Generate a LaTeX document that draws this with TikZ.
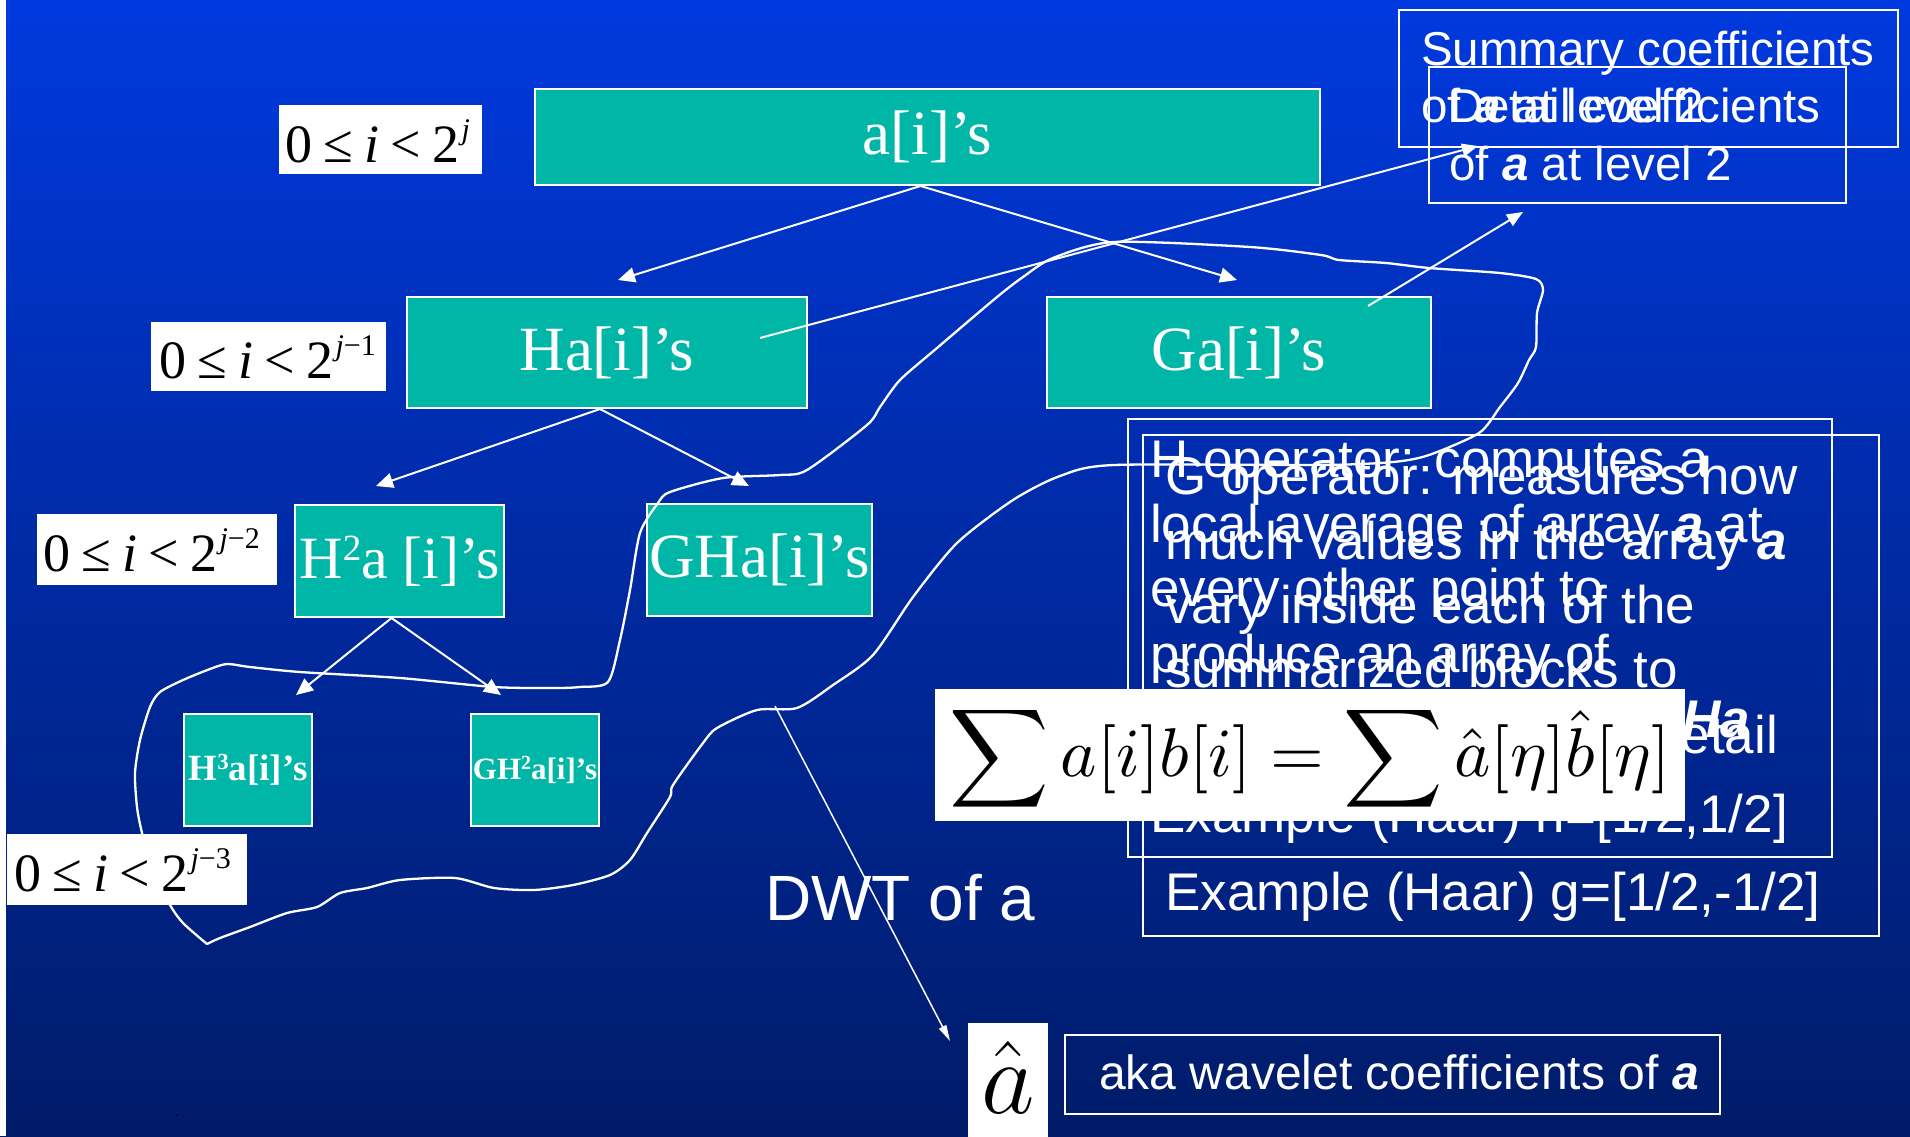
\RequirePackage{fix-cm}
\documentclass[tikz,border=0pt]{standalone}
\usepackage{graphicx}
\usepackage{fontspec}
\setmainfont{Liberation Serif}
\newfontfamily\arialf{Liberation Sans}
\usetikzlibrary{arrows.meta,calc}
\newcommand\fs[1]{\fontsize{#1}{#1}\selectfont}
\newcommand\bfit[1]{\textbf{\textit{#1}}}
\newcommand\lsp{\hspace{0.21em}}
\definecolor{bgtop}{RGB}{0,57,222}
\definecolor{bgbot}{RGB}{0,27,104}
\definecolor{tealc}{RGB}{0,182,166}
\tikzset{
  tnode/.style={draw=white, line width=2pt, fill=tealc, inner sep=0pt, anchor=north west, text=white},
  lbox/.style={fill=white, inner sep=0pt, anchor=north west},
  tbox/.style={draw=white, line width=2.2pt, inner sep=0pt, anchor=north west},
  lbltext/.style={anchor=base west, inner sep=0pt, text=black, font=\fs{54}},
  swtext/.style={anchor=base west, inner sep=0pt, text=white, font=\arialf\fs{53}},
  sumtext/.style={anchor=base west, inner sep=0pt, text=white, font=\arialf\fs{47.5}},
  tarrow/.style={draw=white, line width=2pt, -{Triangle[length=17pt,width=15pt]}},
  larrow/.style={draw=white, line width=2pt, -{Triangle[length=16pt,width=13pt]}},
  thinarrow/.style={draw=white, line width=1.5pt, -{Triangle[length=16pt,width=8pt]}},
  loopline/.style={draw=white, line width=2.3pt, line join=round, line cap=round}
}
\begin{document}
\begin{tikzpicture}[x=1pt, y=-1pt]
\useasboundingbox (0,0) rectangle (1910,1136);
\shade[top color=bgtop, bottom color=bgbot] (0,0) rectangle (1910,1136);
\fill[white] (0,0) rectangle (6,1136);

% explanation boxes
\node[tbox, minimum width=499pt, minimum height=137pt] (sumbox) at (1398,9) {};
\node[tbox, minimum width=417pt, minimum height=136pt] (detbox) at (1428,66) {};
\node[sumtext] (sum1) at (1421,65) {Summary coefficients};
\node[sumtext] (sum2) at (1421,122) {of \bfit{a} at level 2};
\node[sumtext] (det1) at (1449,122) {Detail coefficients};
\node[sumtext] (det2) at (1449,180) {of \bfit{a} at level 2};

\node[tbox, minimum width=704pt, minimum height=438pt] (hbox) at (1127,418) {};
\node[tbox, minimum width=736pt, minimum height=501pt] (gbox) at (1142,434) {};
\node[swtext] (h1) at (1150,477) {H operator: computes a};
\node[swtext] (h2) at (1150,542) {local average of array \bfit{a} at};
\node[swtext] (h3) at (1150,606) {every other point to};
\node[swtext] (h4) at (1150,672) {produce an array of};
\node[swtext] (h5) at (1150,737) {summary coefficients};
\node[swtext] (h5b) at (1682,737) {\bfit{Ha}};
\node[swtext] (h6) at (1150,832) {Example (Haar) h=[1/2,1/2]};
\node[swtext] (g1) at (1165,494) {G operator: measures how};
\node[swtext] (g2) at (1165,559) {much values in the array \bfit{a}};
\node[swtext] (g3) at (1165,623) {vary inside each of the};
\node[swtext] (g4) at (1165,687) {summarized blocks to};
\node[swtext] (g5) at (1165,753) {compute an array of detail};
\node[swtext] (g6) at (1165,910) {Example (Haar) g=[1/2,-1/2]};

% tree nodes
\node[tnode, minimum width=785pt, minimum height=96pt, font=\fs{63}] (A) at (534,88) {a[i]’s};
\node[tnode, minimum width=400pt, minimum height=111pt, font=\fs{63}] (Ha) at (406,296) {Ha[i]’s};
\node[tnode, minimum width=384pt, minimum height=111pt, font=\fs{63}] (Ga) at (1046,296) {Ga[i]’s};
\node[tnode, minimum width=209pt, minimum height=112pt, font=\fs{60}] (H2a) at (294,504) {H\raisebox{18pt}{\fs{37}2}a [i]’s};
\node[tnode, minimum width=225pt, minimum height=112pt, font=\fs{63}] (GHa) at (646,503) {GHa[i]’s};
\node[tnode, minimum width=128pt, minimum height=112pt, font=\bfseries\fs{37}] (H3a) at (183,713) {H\raisebox{11pt}{\fs{23}3}a[i]’s};
\node[tnode, minimum width=128pt, minimum height=112pt, font=\bfseries\fs{31}] (GH2a) at (470,713) {GH\raisebox{10pt}{\fs{20}2}a[i]’s};

% arrow end points
\coordinate (tHa) at (618,280);
\coordinate (tGa) at (1237,280);
\coordinate (tH2a) at (376,486);
\coordinate (tGHa) at (749,486);
\coordinate (tH3a) at (296,695);
\coordinate (tGH2a) at (501,695);
\coordinate (sHa) at (760,338);
\coordinate (tSum) at (1478,146);
\coordinate (sGa) at (1368,306);
\coordinate (tDet) at (1523,212);
\coordinate (sDWT) at (775,706);
\coordinate (tDWT) at (950,1041);

\draw[tarrow] ($(A.south)+(-7,0)$) -- (tHa);
\draw[tarrow] ($(A.south)+(-7,0)$) -- (tGa);
\draw[tarrow] ($(Ha.south)+(-7,0)$) -- (tH2a);
\draw[tarrow] ($(Ha.south)+(-7,0)$) -- (tGHa);
\draw[tarrow] ($(H2a.south)+(-8,0)$) -- (tH3a);
\draw[tarrow] ($(H2a.south)+(-8,0)$) -- (tGH2a);
\draw[larrow] (sHa) -- (tSum);
\draw[larrow] (sGa) -- (tDet);

% hand-drawn loop around the DWT coefficients
\draw[loopline] plot[smooth, tension=0.45] coordinates {
(207,944) (183,923) (170,905) (152,870) (142,833) (137,807) (135,773) (140,740)
(150,707) (160,692) (183,680) (210,669) (227,664) (250,667) (300,672) (400,678)
(494,687) (554,688) (580,687) (608,682) (620,640) (630,590) (640,533) (658,503)
(670,492) (723,478) (780,475) (807,470) (867,425) (880,407) (900,380) (937,348)
(997,297) (1023,277) (1053,258) (1114,242) (1250,247) (1321,255) (1339,260)
(1386,263) (1429,268) (1500,273) (1536,279) (1543,290) (1537,313) (1536,347)
(1529,360) (1518,383) (1500,407) (1479,433) (1429,455) (1393,462) (1321,465)
(1114,465) (1060,476) (1013,500) (957,543) (913,597) (873,655) (833,685)
(797,708) (757,710) (717,728) (703,743) (673,785) (670,797) (647,833) (630,860)
(610,875) (573,885) (534,890) (494,888) (455,878) (400,880) (367,888) (340,893)
(317,907) (287,913) (250,927) (220,938) (207,944)};

\draw[thinarrow] (sDWT) -- (tDWT);

% index range labels
\node[lbox, minimum width=203pt, minimum height=69pt] (L1) at (279,105) {};
\node[lbltext] (L1t) at (285,162) {0\lsp≤\lsp\textit{i}\lsp<\lsp2\hspace{2pt}\raisebox{23pt}{\fs{30}\textit{j}}};
\node[lbox, minimum width=235pt, minimum height=69pt] (L2) at (151,322) {};
\node[lbltext] (L2t) at (159,378) {0\lsp≤\lsp\textit{i}\lsp<\lsp2\hspace{2pt}\raisebox{23pt}{\fs{30}\textit{j}−1}};
\node[lbox, minimum width=240pt, minimum height=71pt] (L3) at (37,514) {};
\node[lbltext] (L3t) at (43,571) {0\lsp≤\lsp\textit{i}\lsp<\lsp2\hspace{2pt}\raisebox{23pt}{\fs{30}\textit{j}−2}};
\node[lbox, minimum width=240pt, minimum height=71pt] (L4) at (7,834) {};
\node[lbltext] (L4t) at (14,891) {0\lsp≤\lsp\textit{i}\lsp<\lsp2\hspace{2pt}\raisebox{23pt}{\fs{30}\textit{j}−3}};

% Parseval formula
\node[lbox, minimum width=750pt, minimum height=132pt] (F) at (935,689) {};
\node[text=black, inner sep=0pt] (Ft) at ($(F.center)+(0,4)$) {\scalebox{6.9}{$\displaystyle\sum a[i]b[i]=\sum \hat{a}[\eta]\hat{b}[\eta]$}};

% DWT label and result
\node[anchor=base west, inner sep=0pt, text=white, font=\arialf\fs{64}] (dwt) at (765,920) {DWT of a};
\node[lbox, minimum width=80pt, minimum height=120pt] (ahatbox) at (968,1023) {};
\node[anchor=base, inner sep=0pt, text=black] (ahat) at (1008,1113) {\fs{104}$\hat{a}$};
\node[tbox, minimum width=655pt, minimum height=79pt] (akabox) at (1064,1034) {};
\node[anchor=base west, inner sep=0pt, text=white, font=\arialf\fs{48}] (aka) at (1099,1089) {aka wavelet coefficients of \bfit{a}};
\node[anchor=base, inner sep=0pt, text=black, font=\fs{14}] (dot) at (177,1116) {.};
\end{tikzpicture}
\end{document}
